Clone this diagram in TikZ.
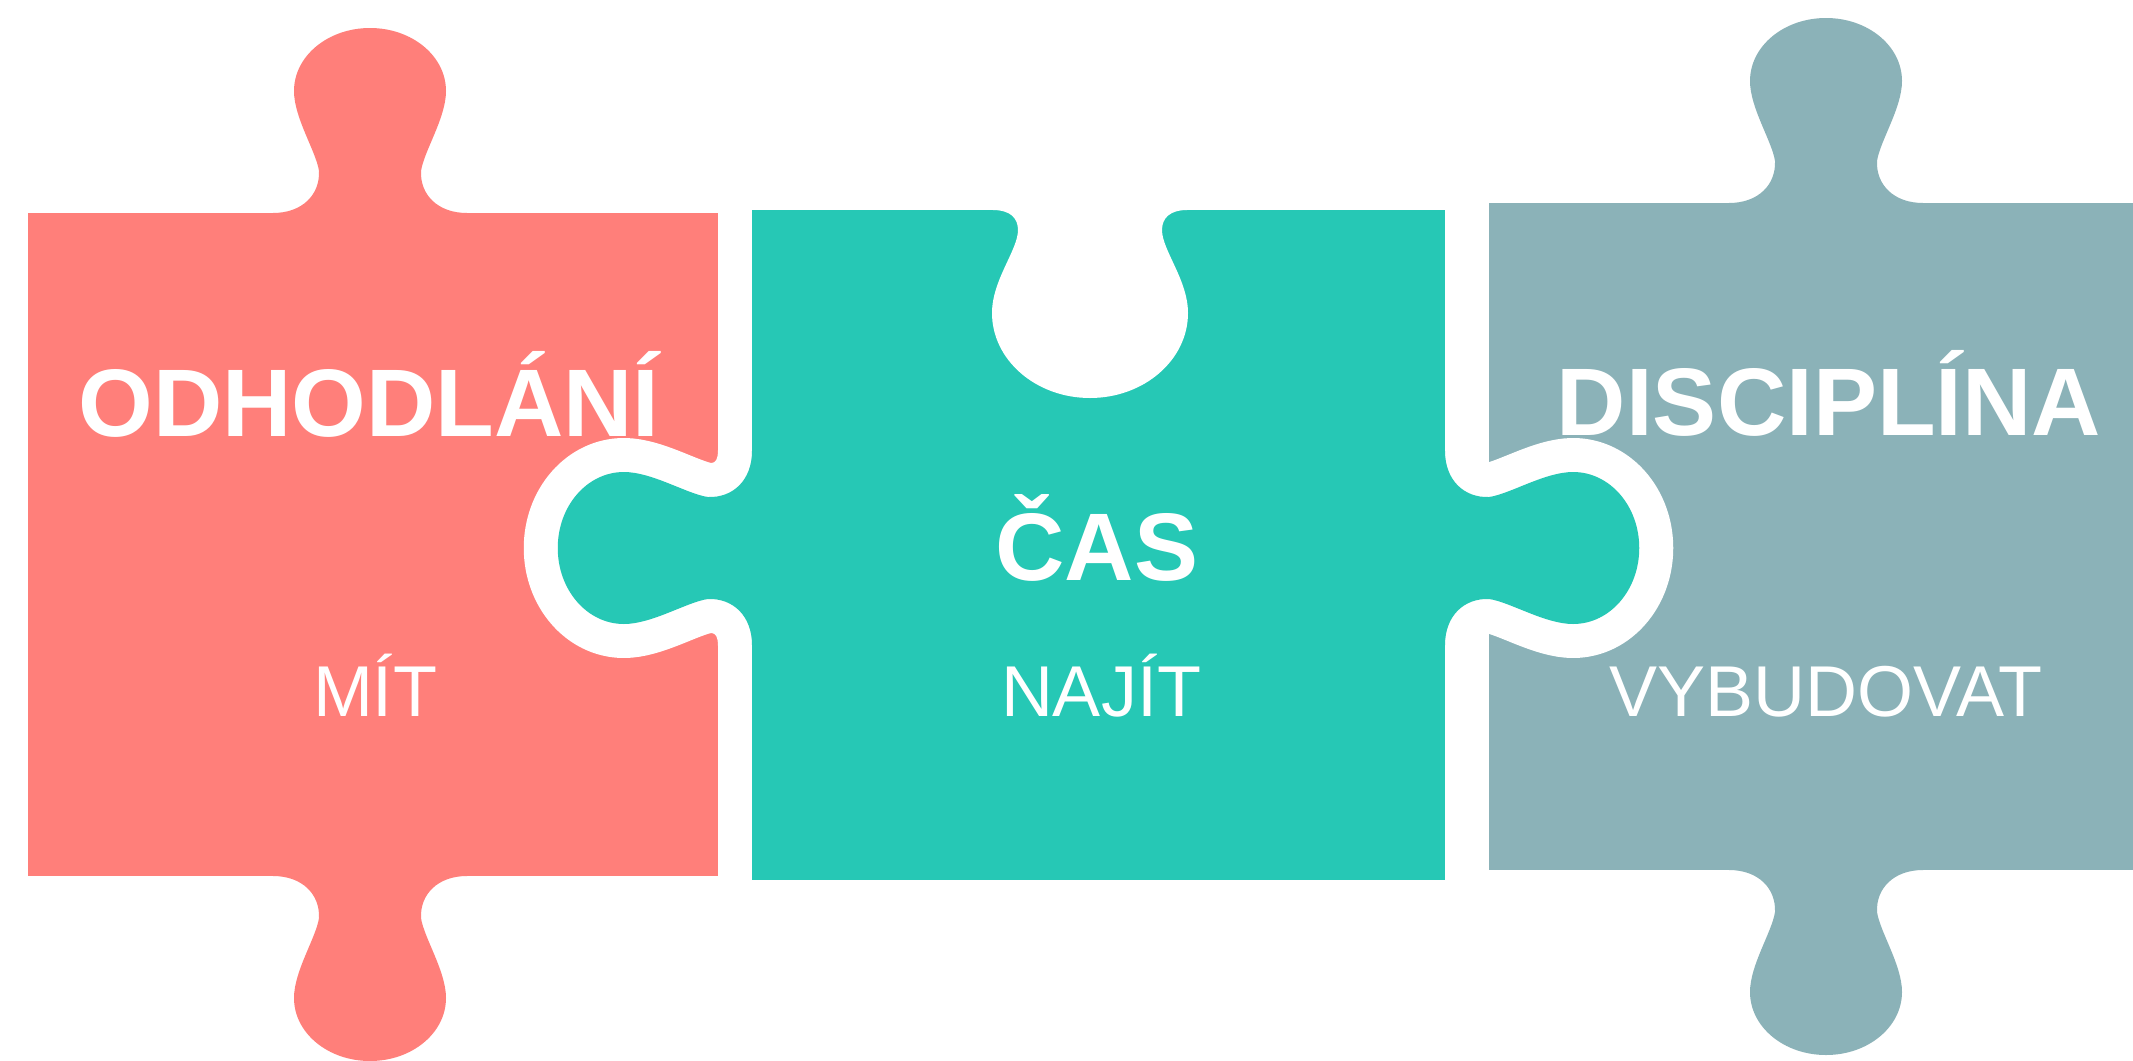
\documentclass[tikz,border=0pt]{standalone}
\usepackage{fontspec}
\setmainfont{Liberation Sans}
\definecolor{pred}{RGB}{255,127,122}
\definecolor{pteal}{RGB}{38,200,181}
\definecolor{pgrey}{RGB}{139,178,184}
\tikzset{
  knob/.pic={
    \path[pic actions] (-97,4) -- (-97,0) .. controls (-68,0) and (-50,-18) .. (-51,-42)
      .. controls (-54,-62) and (-76,-95) .. (-76,-122)
      .. controls (-76,-157) and (-42,-185) .. (0,-185)
      .. controls (42,-185) and (76,-157) .. (76,-122)
      .. controls (76,-95) and (54,-62) .. (51,-42)
      .. controls (50,-18) and (68,0) .. (97,0) -- (97,4) -- cycle;
  },
  gapline/.style={draw=white, fill=white, line width=25.5pt, line join=round},
  title/.style={font=\bfseries\fontsize{36}{40}\selectfont, text=white, anchor=base, inner sep=0pt},
  subtitle/.style={font=\fontsize{27}{30}\selectfont, text=white, anchor=base, inner sep=0pt}
}
\begin{document}
\begin{tikzpicture}[x=0.375pt, y=-0.375pt]
\useasboundingbox (0,0) rectangle (2133,1061);
\fill[white] (0,0) rectangle (2133,1061);
\clip (0,0) rectangle (2133,1061);
% red piece
\fill[pred] (28,213) rectangle (718,876);
\pic[fill=pred] at (370,213) {knob};
\pic[fill=pred, rotate=180] at (370,876) {knob};
% grey piece
\fill[pgrey] (1489,203) rectangle (2140,870);
\pic[fill=pgrey] at (1826,203) {knob};
\pic[fill=pgrey, rotate=180] at (1826,870) {knob};
% gaps around teal knobs
\pic[gapline, rotate=90, yscale=1.05] at (752,548) {knob};
\pic[gapline, rotate=-90, yscale=1.05] at (1445,548) {knob};
% teal piece
\fill[pteal] (752,210) rectangle (1445,880);
\pic[fill=pteal, rotate=90, yscale=1.05] at (752,548) {knob};
\pic[fill=pteal, rotate=-90, yscale=1.05] at (1445,548) {knob};
% empty socket on top of teal
\fill[white] (993,204) -- (993,210) .. controls (1010,210) and (1018,218) .. (1018,230)
  .. controls (1018,250) and (992,280) .. (992,313)
  .. controls (992,360) and (1036,398) .. (1090,398)
  .. controls (1144,398) and (1188,360) .. (1188,313)
  .. controls (1188,280) and (1162,250) .. (1162,230)
  .. controls (1162,218) and (1170,210) .. (1187,210) -- (1187,204) -- cycle;
% texts
\node[title] (t1) at (369,436) {ODHODLÁNÍ};
\node[title] (t2) at (1097,580) {ČAS};
\node[title] (t3) at (1829,435) {DISCIPLÍNA};
\node[subtitle] (s1) at (375,716) {MÍT};
\node[subtitle] (s2) at (1101,716) {NAJÍT};
\node[subtitle] (s3) at (1826,716) {VYBUDOVAT};
\end{tikzpicture}
\end{document}
